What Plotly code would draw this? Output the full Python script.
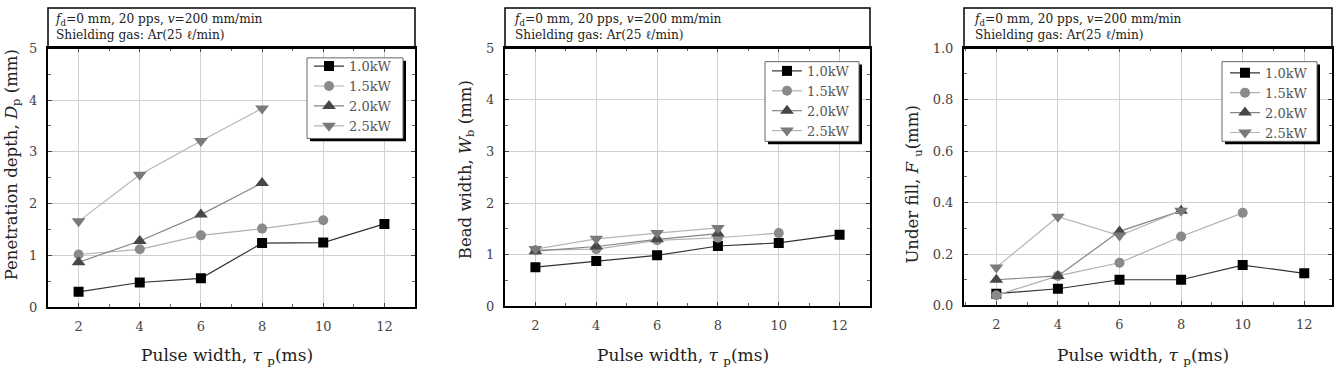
import plotly.graph_objects as go

W, H = 1340, 372

pulse_width = [2, 4, 6, 8, 10, 12]
series_names = ["1.0kW", "1.5kW", "2.0kW", "2.5kW"]

# Penetration depth Dp (mm)
dp_10 = [0.30, 0.48, 0.56, 1.24, 1.25, 1.61]
dp_15 = [1.02, 1.12, 1.39, 1.52, 1.68]
dp_20 = [0.87, 1.28, 1.79, 2.40]
dp_25 = [1.66, 2.56, 3.21, 3.84]

# Bead width Wb (mm)
wb_10 = [0.76, 0.88, 0.99, 1.17, 1.23, 1.39]
wb_15 = [1.09, 1.11, 1.28, 1.33, 1.42]
wb_20 = [1.07, 1.16, 1.30, 1.41]
wb_25 = [1.11, 1.31, 1.42, 1.52]

# Under fill Fu (mm)
fu_10 = [0.046, 0.065, 0.10, 0.10, 0.157, 0.125]
fu_15 = [0.040, 0.115, 0.166, 0.268, 0.360]
fu_20 = [0.10, 0.115, 0.288, 0.368]
fu_25 = [0.148, 0.345, 0.272, 0.368]

y_titles = ["Penetration depth, <i>D</i><sub>p</sub> (mm)",
            "Bead width, <i>W</i><sub>b</sub> (mm)",
            "Under fill, <i>F</i> <sub>u</sub>(mm)"]
x_title = "Pulse width, <i>τ</i> <sub>p</sub>(ms)"
header = "<i>f</i><sub>d</sub>=0 mm, 20 pps, <i>v</i>=200 mm/min<br>Shielding gas: Ar(25 ℓ/min)"

panels_data = [
    [dp_10, dp_15, dp_20, dp_25],
    [wb_10, wb_15, wb_20, wb_25],
    [fu_10, fu_15, fu_20, fu_25],
]

# styles
marker_symbols = ["square", "circle", "triangle-up", "triangle-down"]
marker_colors = ["#000000", "#8a8a8a", "#474747", "#7a7a7a"]
line_colors = ["#333333", "#b0b0b0", "#858585", "#b5b5b5"]
marker_sizes = [10, 10, 12, 12]

# pixel geometry (left, right, top, bottom)
boxes = [(48, 415, 43, 313), (505, 870, 43, 312), (964, 1332, 43, 311)]
xranges = [[1, 13], [1, 13], [0.95, 12.9]]
yranges = [[0, 5], [0, 5], [0, 1.0]]
ydticks = [1, 1, 0.2]
yminor = [0.5, 0.5, 0.1]
ytickformats = ["d", "d", ".1f"]
ytitle_x = [12, 466, 914]
ytitle_y = [165, 170, 185]
header_x = [53, 512, 972]
# legend frame boxes (left, right, top, bottom) and legend item anchor (left, top)
legend_frames = [(307, 403, 53, 137), (765, 859, 57, 140), (1222, 1317, 57, 140)]
legend_anchor = [(309, 46), (767, 51), (1225, 53)]

SERIF = "DejaVu Serif"

def px(x):
    return x / W

def py(y):
    return 1 - y / H

fig = go.Figure()

legend_names = ["legend", "legend2", "legend3"]
for p in range(3):
    xa = "x" if p == 0 else f"x{p+1}"
    ya = "y" if p == 0 else f"y{p+1}"
    for s in range(4):
        ys = panels_data[p][s]
        fig.add_trace(go.Scatter(
            x=pulse_width[:len(ys)], y=ys, mode="lines+markers",
            name=series_names[s], xaxis=xa, yaxis=ya,
            legend=legend_names[p],
            line=dict(color=line_colors[s], width=1.2),
            marker=dict(symbol=marker_symbols[s], size=marker_sizes[s],
                        color=marker_colors[s], line=dict(width=0)),
        ))

layout = dict(width=W, height=H, margin=dict(l=0, r=0, t=0, b=0),
              paper_bgcolor="white", plot_bgcolor="white", showlegend=True,
              font=dict(family=SERIF, color="#333333"))

shapes = []
annotations = []
for p in range(3):
    l, r, t, b = boxes[p]
    xk = "xaxis" if p == 0 else f"xaxis{p+1}"
    yk = "yaxis" if p == 0 else f"yaxis{p+1}"
    xa = "x" if p == 0 else f"x{p+1}"
    ya = "y" if p == 0 else f"y{p+1}"
    layout[xk] = dict(
        domain=[px(l), px(r)], anchor=ya, range=xranges[p],
        tickmode="linear", tick0=2, dtick=2,
        showgrid=True, gridcolor="#d0d0d0", gridwidth=1,
        showline=True, linecolor="black", linewidth=2, mirror="ticks",
        ticks="inside", ticklen=4, tickcolor="#444", zeroline=False,
        minor=dict(ticks="inside", ticklen=3, dtick=1, tick0=1, tickcolor="#666", showgrid=False),
        tickfont=dict(family=SERIF, size=13, color="#444"),
        ticklabelstandoff=6,
    )
    layout[yk] = dict(
        domain=[py(b), py(t)], anchor=xa, range=yranges[p],
        tickmode="linear", tick0=0, dtick=ydticks[p], tickformat=ytickformats[p],
        showgrid=True, gridcolor="#d0d0d0", gridwidth=1,
        showline=True, linecolor="black", linewidth=2, mirror="ticks",
        ticks="inside", ticklen=4, tickcolor="#444", zeroline=False,
        minor=dict(ticks="inside", ticklen=3, dtick=yminor[p], tickcolor="#666", showgrid=False),
        tickfont=dict(family=SERIF, size=13, color="#444"),
        ticklabelstandoff=6,
    )
    # header box
    shapes.append(dict(type="rect", xref="paper", yref="paper",
                       x0=px(l), x1=px(r), y0=py(t), y1=py(1),
                       line=dict(color="black", width=1.5), fillcolor="rgba(0,0,0,0)"))
    annotations.append(dict(text=header, xref="paper", yref="paper",
                            x=px(header_x[p]), y=py(21), xanchor="left", yanchor="middle",
                            align="left", showarrow=False,
                            font=dict(family=SERIF, size=12.2, color="#222")))
    annotations.append(dict(text=y_titles[p], xref="paper", yref="paper",
                            x=px(ytitle_x[p]), y=py(ytitle_y[p]), textangle=-90,
                            xanchor="center", yanchor="middle", showarrow=False,
                            font=dict(family=SERIF, size=16.5, color="#222")))
    annotations.append(dict(text=x_title, xref="paper", yref="paper",
                            x=px((l + r) / 2 - 5), y=py(364),
                            xanchor="center", yanchor="middle", showarrow=False,
                            font=dict(family=SERIF, size=17, color="#222")))
    # legend frame: drop shadow + white box with grey border
    fl, fr, ft, fb = legend_frames[p]
    shapes.append(dict(type="rect", xref="paper", yref="paper", layer="above",
                       x0=px(fl + 3), x1=px(fr + 3), y0=py(fb + 3), y1=py(ft + 3),
                       line=dict(width=0), fillcolor="black"))
    shapes.append(dict(type="rect", xref="paper", yref="paper", layer="above",
                       x0=px(fl), x1=px(fr), y0=py(fb), y1=py(ft),
                       line=dict(color="#666", width=1), fillcolor="white"))
    lx, ly = legend_anchor[p]
    layout[legend_names[p]] = dict(
        x=px(lx), y=py(ly), xanchor="left", yanchor="top",
        bgcolor="rgba(0,0,0,0)", borderwidth=0,
        font=dict(family=SERIF, size=13, color="#555"),
        tracegroupgap=0, itemwidth=30,
    )

layout["shapes"] = shapes
layout["annotations"] = annotations
fig.update_layout(**layout)
fig.write_html("out.html")
